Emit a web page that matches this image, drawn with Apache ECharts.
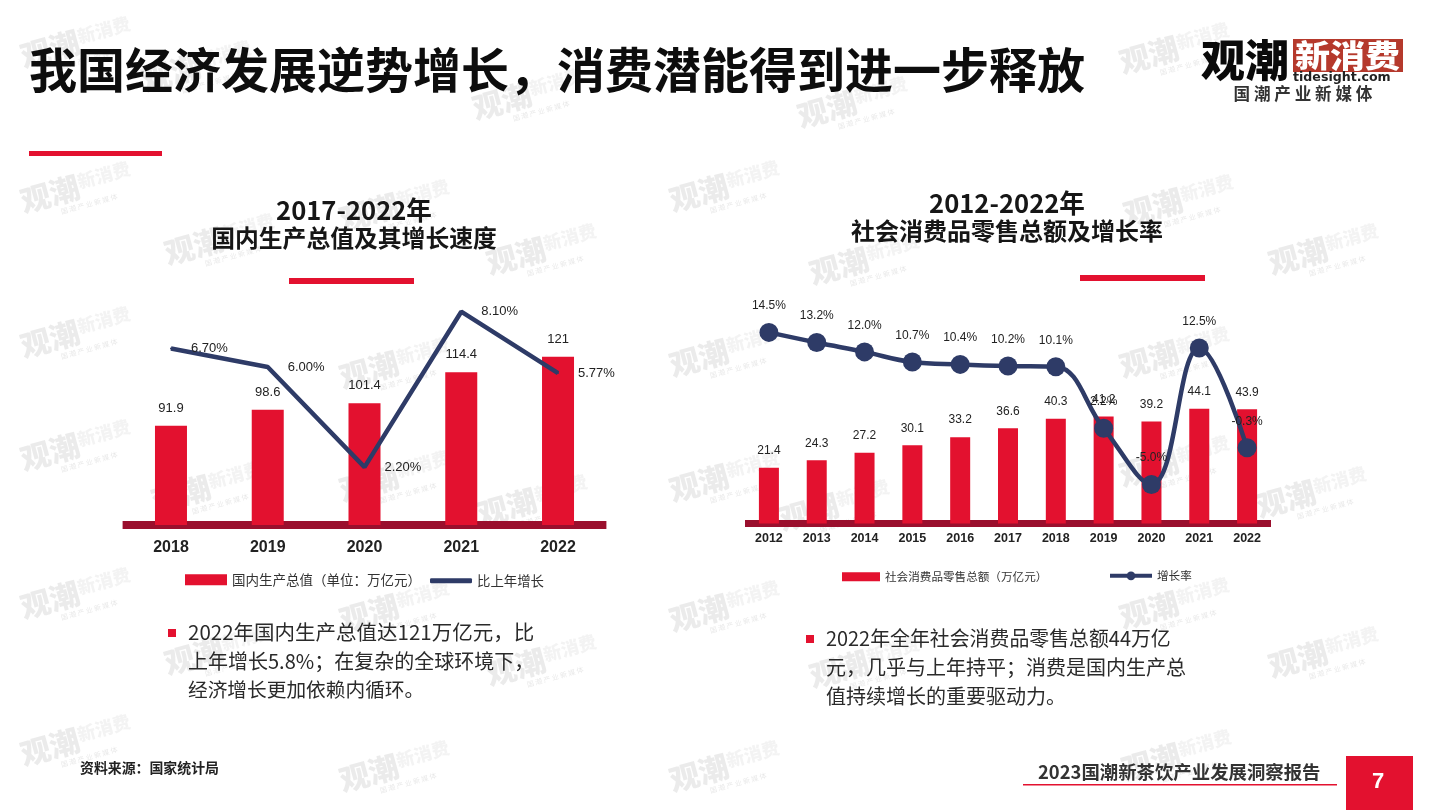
<!DOCTYPE html>
<html><head><meta charset="utf-8">
<style>html,body{margin:0;padding:0;background:#fff}#c{width:1440px;height:810px}</style>
<script src="https://cdn.jsdelivr.net/npm/echarts@6/dist/echarts.min.js"></script>
</head><body><div id="c"></div>
<script>
const gdpYears = ['2018','2019','2020','2021','2022'];
const gdpValues = [91.9, 98.6, 101.4, 114.4, 121];
const gdpGrowth = [6.70, 6.00, 2.20, 8.10, 5.77];
const retailYears = ['2012','2013','2014','2015','2016','2017','2018','2019','2020','2021','2022'];
const retailValues = [21.4, 24.3, 27.2, 30.1, 33.2, 36.6, 40.3, 41.2, 39.2, 44.1, 43.9];
const retailGrowth = [14.5, 13.2, 12.0, 10.7, 10.4, 10.2, 10.1, 2.2, -5.0, 12.5, -0.3];

const gdpBarName = '国内生产总值（单位：万亿元）';
const gdpLineName = '比上年增长';
const retailBarName = '社会消费品零售总额（万亿元）';
const retailLineName = '增长率';

const RED = '#e3112f', NAVY = '#2e3b67', BAND = '#9a0f2d', CJK = '"Noto Sans CJK SC","Liberation Sans",sans-serif', LAT = '"Liberation Sans","Noto Sans CJK SC",sans-serif';

const watermarkSpots = [[76,46],[197,70],[528,98],[853,106],[1175,52],[76,191],[395,209],[220,243],[542,253],[725,190],[865,263],[1179,204],[1324,253],
 [76,336],[395,367],[725,355],[1175,356],[76,449],[207,491],[395,480],[533,504],[725,480],[835,509],[1175,465],[1312,496],
 [76,597],[395,610],[725,610],[1175,607],[220,653],[542,664],[865,666],[1324,656],[76,744],[395,770],[725,770],[1177,759]];

function txt(x,y,text,size,weight,color,align,family){
  return {type:'text',x,y,z:20,style:{text,font:(weight||'normal')+' '+size+'px '+(family||CJK),fill:color||'#111',textAlign:align||'left',textVerticalAlign:'middle',verticalAlign:'middle'}};
}
function box(x,y,w,h,color){ return {type:'rect',z:20,shape:{x,y,width:w,height:h},style:{fill:color}}; }
function watermark(c){
  return {type:'group',x:c[0],y:c[1],rotation:0.27,z:90,silent:true,children:[
    {type:'text',x:-56,y:-4,style:{text:'观潮',font:'900 30px '+CJK,fill:'rgba(110,110,110,0.14)',verticalAlign:'middle',textVerticalAlign:'middle'}},
    {type:'text',x:4,y:-8,style:{text:'新消费',font:'900 18px '+CJK,fill:'rgba(120,120,120,0.09)',verticalAlign:'middle',textVerticalAlign:'middle'}},
    {type:'text',x:-20,y:16,style:{text:'国 潮 产 业 新 媒 体',font:'7px '+CJK,fill:'rgba(110,110,110,0.16)',verticalAlign:'middle',textVerticalAlign:'middle'}}
  ]};
}
const graphics = [
  txt(29,70,'我国经济发展逆势增长，消费潜能得到进一步释放',48,'bold','#0d0d0d'),
  box(29,151,133,5,RED),
  txt(354,210,'2017-2022年',25.6,'bold','#161616','center'),
  txt(354,238,'国内生产总值及其增长速度',23.8,'bold','#161616','center'),
  box(289,278,125,6,RED),
  txt(1007,203,'2012-2022年',25.6,'bold','#161616','center'),
  txt(1007,231,'社会消费品零售总额及增长率',24,'bold','#161616','center'),
  box(1080,275,125,6,RED),
  box(168,629,8,8,RED),
  txt(188,632,'2022年国内生产总值达121万亿元，比',20.5,'normal','#2a2a2a'),
  txt(188,661,'上年增长5.8%；在复杂的全球环境下，',20,'normal','#2a2a2a'),
  txt(188,690,'经济增长更加依赖内循环。',19.7,'normal','#2a2a2a'),
  box(806,635,8,8,RED),
  txt(826,638,'2022年全年社会消费品零售总额44万亿',19.9,'normal','#2a2a2a'),
  txt(826,667,'元，几乎与上年持平；消费是国内生产总',20,'normal','#2a2a2a'),
  txt(826,696,'值持续增长的重要驱动力。',20,'normal','#2a2a2a'),
  txt(80,768,'资料来源：国家统计局',13.9,'bold','#222'),
  txt(1038,772,'2023国潮新茶饮产业发展洞察报告',18.4,'bold','#333'),
  box(1023,784,314,1.5,RED),
  box(1346,756,67,54,RED),
  txt(1378,782,'7',22,'bold','#fff','center',LAT),
  txt(1201,60,'观潮',44,'900','#0a0a0a'),
  box(1293,39,110,33,'#b5392c'),
  Object.assign(txt(1295,55,'新消费',31,'900','#fff'),{scaleX:1.13}),
  txt(1293,78,'tidesight.com',12.6,'bold','#222','left','"DejaVu Sans",sans-serif'),
  txt(1303,94,'国 潮 产 业 新 媒 体',16.6,'bold','#333','center'),
].concat(watermarkSpots.map(watermark));

const legendText = s => ({fontSize:s,color:'#333',fontFamily:CJK});
const option = {
  backgroundColor:'#fff', animation:false, textStyle:{fontFamily:LAT},
  graphic:{elements:graphics},
  grid:[
    {left:122.6,top:288,width:483.8,height:237,containLabel:false},
    {left:745,top:289.5,width:526,height:234,containLabel:false}
  ],
  xAxis:[
    {type:'category',gridIndex:0,data:gdpYears,axisTick:{show:false},
     axisLine:{lineStyle:{color:BAND,width:8,cap:'butt'}},
     axisLabel:{fontSize:16,fontWeight:'bold',color:'#222',margin:15,fontFamily:LAT}},
    {type:'category',gridIndex:1,data:retailYears,axisTick:{show:false},
     axisLine:{lineStyle:{color:BAND,width:7,cap:'butt'}},
     axisLabel:{fontSize:12.5,fontWeight:'bold',color:'#222',margin:9,fontFamily:LAT}}
  ],
  yAxis:[
    {type:'value',gridIndex:0,min:50,max:150,show:false,splitLine:{show:false}},
    {type:'value',gridIndex:0,min:0,max:9,show:false,splitLine:{show:false}},
    {type:'value',gridIndex:1,min:0,max:90,show:false,splitLine:{show:false}},
    {type:'value',gridIndex:1,min:-10,max:20,show:false,splitLine:{show:false}}
  ],
  legend:[
    {left:185,top:573,itemWidth:42,itemHeight:11,padding:0,icon:'rect',data:[gdpBarName],textStyle:legendText(13.5)},
    {left:430,top:574,itemWidth:42,itemHeight:5,padding:0,icon:'roundRect',data:[gdpLineName],textStyle:legendText(13.4)},
    {left:842,top:571,itemWidth:38,itemHeight:9,padding:0,icon:'rect',data:[retailBarName],textStyle:legendText(11.6)},
    {left:1108,top:570,itemWidth:42,itemHeight:11,padding:0,lineStyle:{width:4},data:[retailLineName],textStyle:legendText(11.6)}
  ],
  series:[
    {name:gdpBarName,type:'bar',xAxisIndex:0,yAxisIndex:0,data:gdpValues,barWidth:32,itemStyle:{color:RED},
     label:{show:true,position:'top',distance:11,fontSize:13,color:'#222',fontFamily:LAT}},
    {name:gdpLineName,type:'line',xAxisIndex:0,yAxisIndex:1,data:gdpGrowth,symbol:'circle',symbolSize:2,
     lineStyle:{color:NAVY,width:4.5},itemStyle:{color:NAVY},z:5,
     label:{show:true,position:'right',distance:19,fontSize:13,color:'#222',fontFamily:LAT,formatter:p=>p.value.toFixed(2)+'%'}},
    {name:retailBarName,type:'bar',xAxisIndex:1,yAxisIndex:2,data:retailValues,barWidth:20,itemStyle:{color:RED},
     label:{show:true,position:'top',distance:11,fontSize:12,color:'#222',fontFamily:LAT}},
    {name:retailLineName,type:'line',xAxisIndex:1,yAxisIndex:3,data:retailGrowth,smooth:0.4,symbol:'circle',symbolSize:19,
     lineStyle:{color:NAVY,width:4.5},itemStyle:{color:NAVY},z:5,
     label:{show:true,position:'top',distance:11,fontSize:12,color:'#222',fontFamily:LAT,formatter:p=>p.value.toFixed(1)+'%'}}
  ]
};
echarts.init(document.getElementById('c')).setOption(option);
</script></body></html>
